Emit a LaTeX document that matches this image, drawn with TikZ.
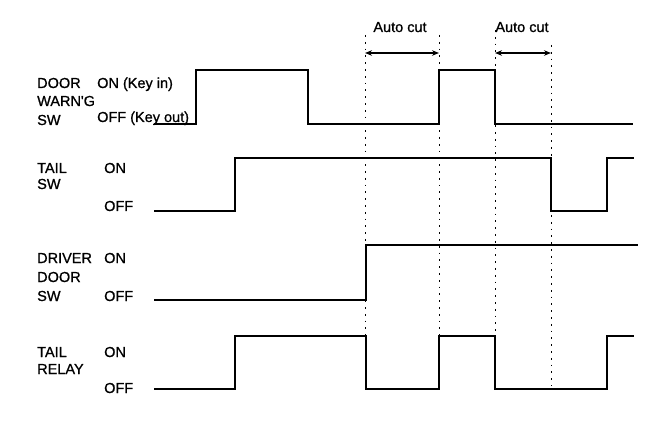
\documentclass[tikz,border=0pt]{standalone}
\usepackage{fontspec}
\setmainfont{Liberation Sans}
\newfontfamily\lblfont{Liberation Sans}[FakeBold=0.9]
\usetikzlibrary{arrows.meta}
\begin{document}
\begin{tikzpicture}[x=1pt,y=-1pt,
  lbl/.style={anchor=base west,inner sep=0pt,font=\lblfont\fontsize{14.5}{16}\selectfont},
  toplbl/.style={anchor=base,inner sep=0pt,font=\lblfont\fontsize{14.5}{16}\selectfont},
  wave/.style={line width=1.9pt,line join=miter,line cap=rect},
  guide/.style={line width=0.9pt,dash pattern=on 1.8pt off 5pt},
  span/.style={line width=1.3pt,{Stealth[length=7pt,width=5.5pt]}-{Stealth[length=7pt,width=5.5pt]}}]
\useasboundingbox (0,0) rectangle (672,422);

% guide coordinates
\coordinate (g1t) at (365,35);  \coordinate (g1b) at (365,390);
\coordinate (g2t) at (439,35);  \coordinate (g2b) at (439,390);
\coordinate (g3t) at (495,30);  \coordinate (g3b) at (495,390);
\coordinate (g4t) at (551,45);  \coordinate (g4b) at (551,386);
\draw[guide] (g1t) -- (g1b);
\draw[guide] (g2t) -- (g2b);
\draw[guide] (g3t) -- (g3b);
\draw[guide] (g4t) -- (g4b);

% auto cut spans
\coordinate (a1l) at (365,53); \coordinate (a1r) at (439,53);
\coordinate (a2l) at (495,53); \coordinate (a2r) at (551,53);
\draw[span] (a1l) -- (a1r);
\draw[span] (a2l) -- (a2r);
\node[toplbl] (ac1) at (400,32) {Auto cut};
\node[toplbl] (ac2) at (522,32) {Auto cut};

% labels
\node[lbl] (dw1) at (37,88) {DOOR};
\node[lbl] (dw2) at (37,106) {WARN'G};
\node[lbl] (dw3) at (37,125) {SW};
\node[lbl] (dwon) at (97,88) {ON (Key in)};
\node[lbl] (dwoff) at (97,122) {OFF (Key out)};

\node[lbl] (ts1) at (37,173) {TAIL};
\node[lbl] (ts2) at (37,189) {SW};
\node[lbl] (tson) at (104,173) {ON};
\node[lbl] (tsoff) at (104,211) {OFF};

\node[lbl] (dd1) at (37,263) {DRIVER};
\node[lbl] (dd2) at (37,282) {DOOR};
\node[lbl] (dd3) at (37,301) {SW};
\node[lbl] (ddon) at (104,263) {ON};
\node[lbl] (ddoff) at (104,301) {OFF};

\node[lbl] (tr1) at (37,357) {TAIL};
\node[lbl] (tr2) at (37,374) {RELAY};
\node[lbl] (tron) at (104,357) {ON};
\node[lbl] (troff) at (104,393) {OFF};

% waveforms
\draw[wave] (155,124) -- (196,124) -- (196,70) -- (308,70) -- (308,124)
  -- (439,124) -- (439,70) -- (495,70) -- (495,124) -- (632,124);
\draw[wave] (155,211) -- (235,211) -- (235,158) -- (551,158) -- (551,211)
  -- (607,211) -- (607,158) -- (633,158);
\draw[wave] (155,300) -- (366,300) -- (366,245) -- (637,245);
\draw[wave] (155,389) -- (235,389) -- (235,336) -- (366,336) -- (366,389)
  -- (439,389) -- (439,336) -- (495,336) -- (495,389) -- (607,389)
  -- (607,336) -- (633,336);
\end{tikzpicture}
\end{document}
